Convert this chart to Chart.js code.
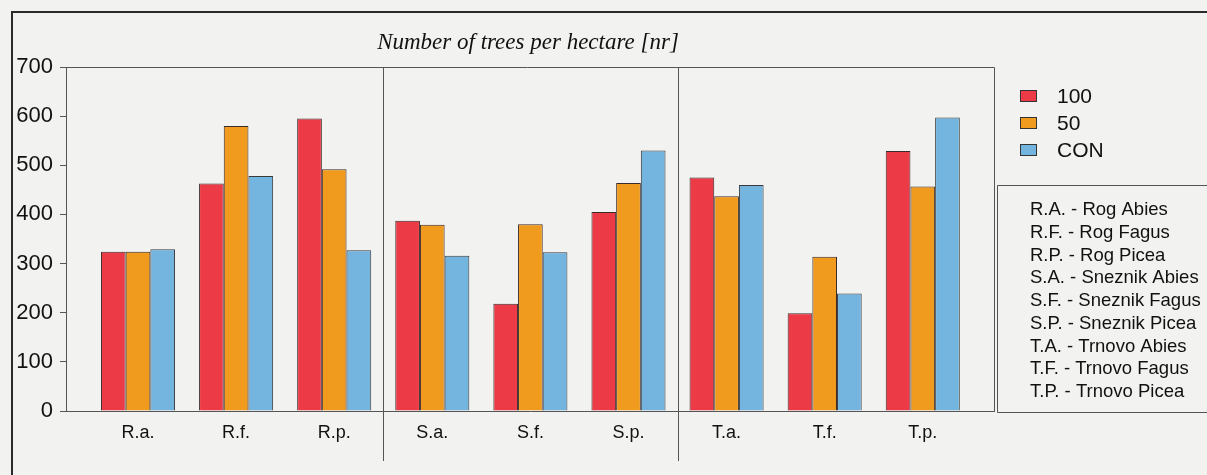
<!DOCTYPE html>
<html>
<head>
<meta charset="utf-8">
<script src="https://cdn.jsdelivr.net/npm/chart.js@4/dist/chart.umd.min.js"></script>
<style>
  html, body { margin: 0; padding: 0; background: #f2f2f0; }
  #wrap { width: 1207px; height: 475px; position: relative; }
</style>
</head>
<body>
<div id="wrap"><canvas id="trees" width="1207" height="475"></canvas></div>
<script>

// stands (site + species)
var stands = ["R.a.", "R.f.", "R.p.", "S.a.", "S.f.", "S.p.", "T.a.", "T.f.", "T.p."];

// number of trees per hectare for each treatment
var cut100 = [324, 463, 595, 387, 218, 405, 475, 199, 529];
var cut50  = [324, 580, 492, 379, 380, 464, 437, 314, 457];
var ctrl   = [329, 478, 327, 316, 323, 530, 460, 239, 597];

var yTicks = [0, 100, 200, 300, 400, 500, 600, 700];

var seriesNames  = ["100", "50", "CON"];
var seriesColors = ["#ec3a47", "#f09a1e", "#74b5e0"];

var standNames = [
  "R.A. - Rog Abies",
  "R.F. - Rog Fagus",
  "R.P. - Rog Picea",
  "S.A. - Sneznik Abies",
  "S.F. - Sneznik Fagus",
  "S.P. - Sneznik Picea",
  "T.A. - Trnovo Abies",
  "T.F. - Trnovo Fagus",
  "T.P. - Trnovo Picea"
];

var titleText = "Number of trees per hectare [nr]";

function toPoints(arr) {
  return arr.map(function (v, i) { return { x: i, y: v }; });
}

// frame, site separators, title and the two legend boxes
var decorations = {
  id: "decorations",
  afterDraw: function (chart) {
    var ctx = chart.ctx;
    var a = chart.chartArea;
    var xs = chart.scales.x;
    ctx.save();

    // outer page frame
    ctx.strokeStyle = "#2a2a2a";
    ctx.lineWidth = 2;
    ctx.beginPath();
    ctx.moveTo(12, 475);
    ctx.lineTo(12, 12);
    ctx.lineTo(1207, 12);
    ctx.stroke();

    // plot frame (top + right)
    ctx.strokeStyle = "#555";
    ctx.lineWidth = 1;
    ctx.beginPath();
    ctx.moveTo(a.left - 6, a.top + 0.5);
    ctx.lineTo(a.right + 0.5, a.top + 0.5);
    ctx.lineTo(a.right + 0.5, a.bottom);
    ctx.stroke();

    // separators between Rog / Sneznik / Trnovo
    [2.5, 5.5].forEach(function (v) {
      var px = Math.round(xs.getPixelForValue(v)) + 0.5;
      ctx.beginPath();
      ctx.moveTo(px, a.top);
      ctx.lineTo(px, a.bottom + 50);
      ctx.stroke();
    });

    // title
    ctx.fillStyle = "#111";
    ctx.font = "italic 23px 'Liberation Serif', 'DejaVu Serif', serif";
    ctx.textAlign = "center";
    ctx.textBaseline = "middle";
    ctx.fillText(titleText, 528, 43);

    // series legend
    ctx.textAlign = "left";
    ctx.font = "21px 'Liberation Sans', Arial, sans-serif";
    for (var i = 0; i < seriesNames.length; i++) {
      var y = 96 + i * 27;
      ctx.fillStyle = seriesColors[i];
      ctx.fillRect(1020, y - 6, 17, 12);
      ctx.strokeStyle = "#333";
      ctx.strokeRect(1020.5, y - 5.5, 16, 11);
      ctx.fillStyle = "#111";
      ctx.fillText(seriesNames[i], 1057, y + 1);
    }

    // abbreviations box
    ctx.strokeStyle = "#555";
    ctx.beginPath();
    ctx.moveTo(1207, 185.5);
    ctx.lineTo(997.5, 185.5);
    ctx.lineTo(997.5, 412.5);
    ctx.lineTo(1207, 412.5);
    ctx.stroke();
    ctx.font = "18.5px 'Liberation Sans', Arial, sans-serif";
    for (var j = 0; j < standNames.length; j++) {
      ctx.fillText(standNames[j], 1030, 210 + j * 22.75);
    }

    ctx.restore();
  }
};

var ctx = document.getElementById("trees").getContext("2d");

var myChart = new Chart(ctx, {
  type: "bar",
  data: {
    datasets: [
      { label: seriesNames[0], data: toPoints(cut100), backgroundColor: seriesColors[0], borderColor: "#3a2a2a", borderWidth: 1 },
      { label: seriesNames[1], data: toPoints(cut50),  backgroundColor: seriesColors[1], borderColor: "#3a2a2a", borderWidth: 1 },
      { label: seriesNames[2], data: toPoints(ctrl),   backgroundColor: seriesColors[2], borderColor: "#3a3a3a", borderWidth: 1 }
    ]
  },
  options: {
    responsive: false,
    animation: false,
    layout: { padding: { left: 0, top: 67, right: 213, bottom: 0 } },
    datasets: { bar: { barPercentage: 1.0, categoryPercentage: 0.755 } },
    plugins: {
      legend: { display: false },
      title: { display: false },
      tooltip: { enabled: false }
    },
    scales: {
      x: {
        type: "linear",
        offset: false,
        min: -0.734,
        max: 8.726,
        afterFit: function (s) { s.height = 64; },
        afterBuildTicks: function (s) {
          s.ticks = stands.map(function (c, i) { return { value: i }; });
        },
        grid: { display: false, drawTicks: false, offset: false },
        border: { color: "#555", width: 1 },
        ticks: {
          padding: 11,
          color: "#111",
          font: { family: "'Liberation Sans', Arial, sans-serif", size: 18 },
          callback: function (v) { return stands[v]; }
        }
      },
      y: {
        min: 0,
        max: 700,
        afterFit: function (s) { s.width = 66; },
        afterBuildTicks: function (s) {
          s.ticks = yTicks.map(function (v) { return { value: v }; });
        },
        grid: { drawOnChartArea: false, tickLength: 6, color: "#555" },
        border: { color: "#555", width: 1 },
        ticks: {
          padding: 7,
          color: "#111",
          font: { family: "'Liberation Sans', Arial, sans-serif", size: 22 }
        }
      }
    }
  },
  plugins: [decorations]
});
</script>
</body>
</html>
